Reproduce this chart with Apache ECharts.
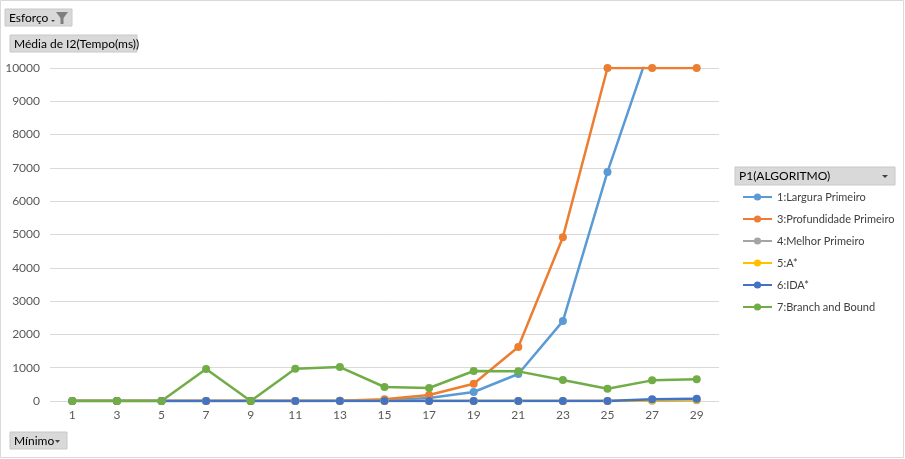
<!DOCTYPE html>
<html><head><meta charset="utf-8">
<script src="https://cdn.jsdelivr.net/npm/echarts@6/dist/echarts.min.js"></script>
<style>html,body{margin:0;padding:0;background:#fff}#c{width:905px;height:459px}</style>
</head><body><div id="c"></div>
<script>
const categories = ['1','3','5','7','9','11','13','15','17','19','21','23','25','27','29'];
const seriesNames = ['1:Largura Primeiro','3:Profundidade Primeiro','4:Melhor Primeiro','5:A*','6:IDA*','7:Branch and Bound'];
const largura      = [0,0,0,0,0,0,5,20,90,270,810,2400,6880,10800,11500];
const profundidade = [0,0,0,0,0,0,10,50,180,520,1620,4920,10000,10000,10000];
const melhor       = [0,0,0,0,0,0,0,0,0,0,0,0,0,10,20];
const aStar        = [0,0,0,0,0,0,0,0,0,0,0,0,0,20,40];
const ida          = [0,0,0,0,0,0,0,0,0,0,0,0,0,50,70];
const branch       = [0,0,0,960,0,970,1020,420,390,900,890,630,370,620,650];
const yTicks = {min:0, max:10000, interval:1000};
const colors = ['#5B9BD5','#ED7D31','#A5A5A5','#FFC000','#4472C4','#70AD47'];
const allData = [largura, profundidade, melhor, aStar, ida, branch];

const chart = echarts.init(document.getElementById('c'));
const font = 'Lato, "Liberation Sans", sans-serif';
function btn(x,y,w,h,label,extra){
  const els = [
    {type:'rect', shape:{x:x,y:y,width:w,height:h}, style:{fill:'#D9D9D9', stroke:'#C8C8C8', lineWidth:1}},
    {type:'text', style:{x:x+4,y:y+h/2+0.5,text:label,fill:'#000',font:'12px '+font,textVerticalAlign:'middle'}}
  ];
  return els.concat(extra||[]);
}
const graphics = [].concat(
  [{type:'rect', shape:{x:0.5,y:0.5,width:903,height:457}, style:{fill:'none', stroke:'#D9D9D9', lineWidth:1}}],
  btn(5,9,67,17,'Esforço',[
    {type:'polygon', shape:{points:[[56,12],[68,12],[63.5,18],[63.5,24],[60.5,24],[60.5,18]]}, style:{fill:'#7F7F7F'}},
    {type:'polygon', shape:{points:[[51,20],[55,20],[53,22]]}, style:{fill:'#404040'}}
  ]),
  btn(10,35,127,17,'Média de I2(Tempo(ms))'),
  btn(10,432,57,17,'Mínimo',[
    {type:'polygon', shape:{points:[[55,440],[60,440],[57.5,443]]}, style:{fill:'#404040'}}
  ]),
  btn(735,167,160,18,'P1(ALGORITMO)',[
    {type:'polygon', shape:{points:[[882,175],[888,175],[885,178]]}, style:{fill:'#404040'}}
  ])
);

chart.setOption({
  animation:false,
  color:colors,
  textStyle:{fontFamily:font},
  grid:{left:50, right:186, top:68, bottom:58, containLabel:false},
  xAxis:{type:'category', data:categories, boundaryGap:true,
    axisLine:{show:false}, axisTick:{show:false},
    axisLabel:{color:'#595959', fontSize:12, margin:8, fontFamily:font}},
  yAxis:{type:'value', min:yTicks.min, max:yTicks.max, interval:yTicks.interval,
    axisLabel:{color:'#595959', fontSize:12, margin:10, fontFamily:font, formatter:v=>String(v)},
    splitLine:{lineStyle:{color:'#D9D9D9', width:1}},
    axisLine:{show:false}, axisTick:{show:false}},
  legend:{orient:'vertical', left:737, top:185, itemGap:8, itemWidth:29, itemHeight:9,
    textStyle:{color:'#404040', fontSize:11, fontFamily:font, lineHeight:14},
    data:seriesNames},
  graphic:graphics,
  series: seriesNames.map((n,i)=>({
    name:n, type:'line', data:allData[i], symbol:'circle', symbolSize:8,
    clip:true,
    lineStyle:{width:2.5, color:colors[i]}, itemStyle:{color:colors[i]}
  }))
});
</script></body></html>
